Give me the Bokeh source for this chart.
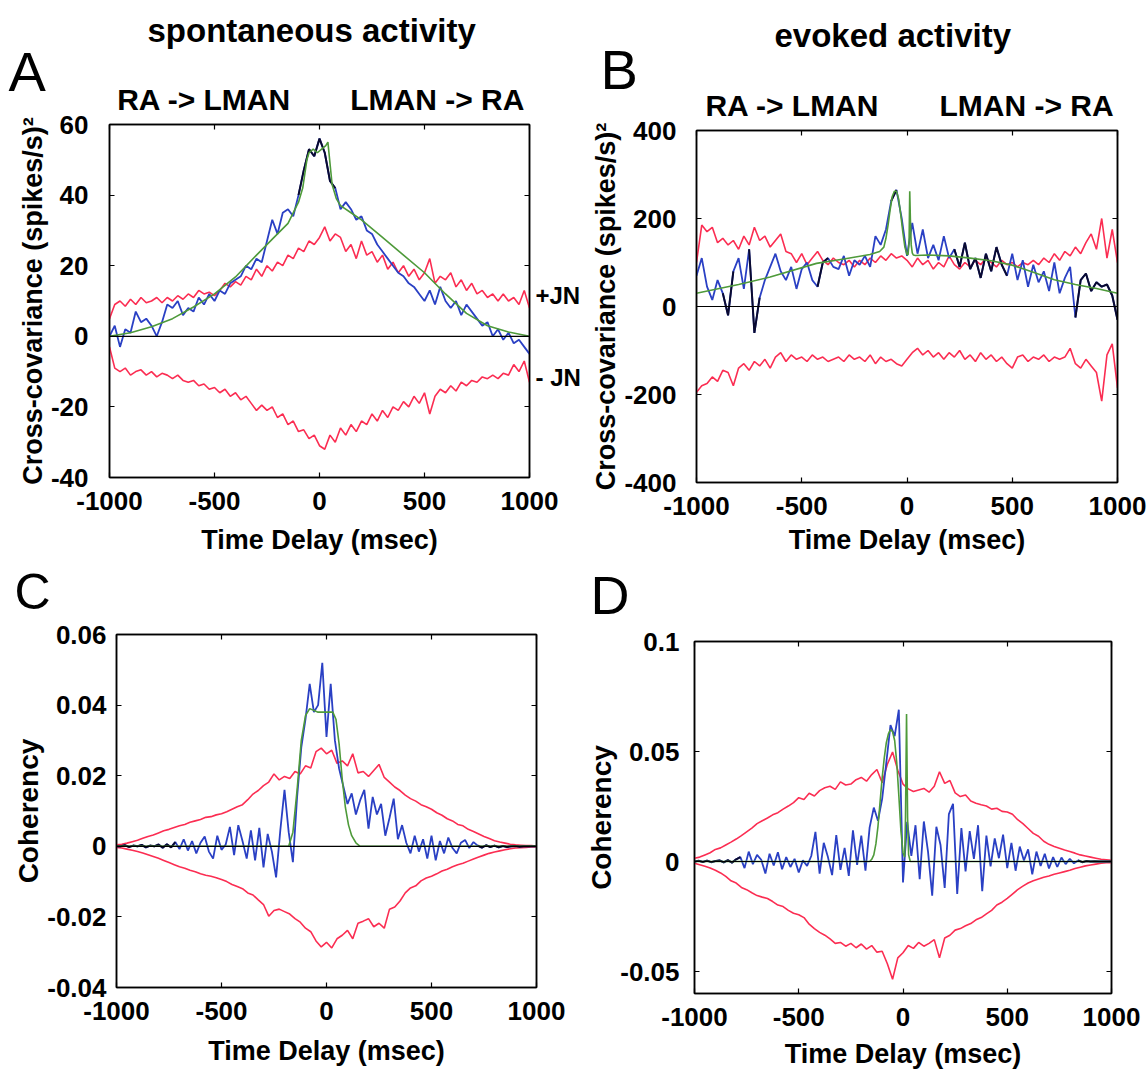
from bokeh.plotting import figure
from bokeh.models import Range1d, FixedTicker, LinearAxis, CustomJSTickFormatter, Span, Title
from bokeh.layouts import row, column
from bokeh.core.properties import value
from bokeh.embed import file_html
from bokeh.resources import INLINE

# ---------------- data ----------------
LAG25 = list(range(-1000, 1001, 25))
LAG20 = list(range(-1000, 1001, 20))

# Panel A : spontaneous cross-covariance
A_UP = [5, 9, 10, 8.5, 10.5, 9, 11, 9.5, 10, 11,
        9.5, 11, 10, 11.5, 10.5, 12, 11, 13, 12, 12.5,
        11.5, 13, 15, 14, 15.5, 14.5, 17, 16, 19, 17,
        20, 18.5, 21, 20, 23, 22, 25, 24, 27, 26,
        28,
        31, 27, 29, 28, 24, 26, 22, 27, 23, 24,
        21, 23, 19, 21, 18, 20, 17, 19, 16, 18,
        22, 15, 17, 16, 18, 14, 16, 13, 15, 12,
        13, 11, 12, 10, 12, 10, 11, 9, 13, 8]
A_LO = [-3, -9, -10, -9, -11, -10, -9.5, -11, -10, -11.5,
        -10.5, -11, -12, -11, -12.5, -13, -12.5, -14, -13.5, -15,
        -14.5, -16, -15, -17, -16, -18, -17, -19, -21, -19.5,
        -21, -20, -23, -22, -25, -24, -27, -26.5, -29, -28,
        -31,
        -32, -28, -30, -26, -28, -25, -27, -24, -25, -22,
        -24, -21, -23, -20, -21, -18.5, -20, -17, -19, -16,
        -22, -17, -15, -16, -14, -15.5, -13, -14, -12.5, -13,
        -11.5, -12, -11, -12, -10.5, -11, -8, -10, -7, -13]
A_BLUE = [0, 3, -3, 2, 1, 7, 4, 5, 3, 0,
          4, 9, 8, 10, 6, 8, 7, 11, 9, 12,
          10, 13, 12, 15, 16, 17, 20, 19, 22, 21,
          27, 33, 29, 35, 36, 34, 40, 47, 53, 51,
          56,
          52, 44, 42, 36, 38, 36, 33, 34, 30, 29,
          26, 24, 22, 20, 18, 17, 15, 14, 12, 10,
          13, 9, 14, 10, 8, 10, 6, 9, 7, 5,
          3, 4, 0, 2, -1, 1, -2, -1, -3, -5]
A_FIT_X = [-1000, -900, -800, -700, -600, -500, -400, -300, -200, -150,
           -100, -80, -60, -50, -30, -10, 10, 30, 40, 50,
           60, 80, 100, 150, 200, 300, 400, 500, 600, 700,
           800, 900, 1000]
A_FIT_Y = [0, 1, 2.7, 5, 8.3, 12, 16.8, 23, 29, 32,
           38, 42, 50, 52, 53, 52, 53, 54, 55, 49,
           43, 39, 37, 35, 33, 28, 23, 18, 12, 6.5,
           3, 1.2, 0]
A_DARK = [(-100, 75)]

# Panel B : evoked cross-covariance
B_UP = [100, 185, 170, 180, 145, 155, 140, 150, 130, 160,
        140, 180, 150, 160, 135, 150, 165, 125, 120, 100,
        120, 95, 110, 125, 105, 95, 110, 100, 95, 105,
        90, 105, 95, 110, 100, 115, 105, 120, 110, 115,
        105,
        90, 110, 95, 105, 85, 100, 90, 115, 95, 85,
        100, 90, 105, 95, 110, 100, 90, 105, 95, 100,
        90, 100, 95, 105, 95, 110, 100, 120, 105, 125,
        115, 135, 120, 145, 165, 130, 200, 110, 175, 100]
B_LO = [-195, -180, -175, -160, -170, -145, -150, -180, -140, -130,
        -145, -125, -135, -120, -140, -115, -105, -125, -110, -120,
        -115, -125, -110, -120, -115, -125, -120, -115, -125, -110,
        -120, -115, -125, -110, -130, -115, -125, -120, -130, -135,
        -120,
        -105, -95, -110, -100, -115, -105, -120, -105, -115, -100,
        -120, -110, -125, -105, -120, -110, -125, -115, -130, -140,
        -115, -110, -125, -115, -120, -110, -125, -115, -120, -115,
        -95, -130, -140, -120, -135, -150, -215, -110, -85, -185]
B_BLUE = [70, 110, 45, 15, 60, 30, -20, 80, 110, 40,
          130, -60, 20, 60, 90, 120, 80, 60, 90, 40,
          85, 100, 60, 45, 100, 110, 90, 85, 115, 70,
          105, 95, 115, 90, 160, 140, 175, 240, 265, 200,
          115,
          190, 120, 175, 110, 140, 105, 160, 110, 130, 90,
          145, 85, 110, 65, 120, 80, 135, 95, 70, 120,
          60, 105, 45, 95, 55, 80, 35, 100, 30, 65,
          90, -25, 60, 75, 35, 55, 45, 50, 25, -30]
B_FIT_X = [-1000, -800, -650, -430, -300, -176, -130, -110, -100, -90,
           -80, -70, -60, -50, -40, -30, -20, -10, 0, 5,
           10, 13, 16, 20, 25, 30, 40, 100, 200, 300,
           400, 500, 600, 700, 800, 900, 1000]
B_FIT_Y = [30, 50, 67, 98, 108, 118, 125, 135, 155, 185,
           220, 250, 262, 262, 245, 210, 170, 135, 118, 118,
           150, 262, 200, 140, 122, 117, 116, 117, 115, 110,
           104, 94, 78, 61, 50, 41, 30]
B_DARK = [(-875, -825), (-750, -700), (-425, -375), (-75, -50), (225, 475), (800, 1000)]

# Panel C : spontaneous coherency
C_UP = [0.0004, 0.0006, 0.0009, 0.0013, 0.0017, 0.0023, 0.0028, 0.0032, 0.0038, 0.0044,
        0.0048, 0.0053, 0.0058, 0.0062, 0.0068, 0.0072, 0.0076, 0.0082, 0.0084, 0.0089,
        0.0092, 0.0098, 0.0105, 0.0112, 0.0118, 0.0132, 0.0148, 0.0158, 0.0172, 0.0182,
        0.0205, 0.0188, 0.0198, 0.0192, 0.0212, 0.0205, 0.0228, 0.0222, 0.0268, 0.0278,
        0.0262,
        0.0272, 0.0235, 0.0242, 0.0228, 0.0262, 0.0208, 0.0212, 0.0198, 0.0215, 0.0232,
        0.0195, 0.0182, 0.0168, 0.0158, 0.0145, 0.0135, 0.0128, 0.0118, 0.0112, 0.0105,
        0.0095, 0.0088, 0.0078, 0.0072, 0.0062, 0.0058, 0.0048, 0.0042, 0.0035, 0.0028,
        0.0022, 0.0016, 0.0012, 0.0009, 0.0006, 0.0004, 0.0003, 0.0002, 0.0002, 0.0001]
C_LO = [-0.0003, -0.0005, -0.0008, -0.0011, -0.0015, -0.0019, -0.0024, -0.0029, -0.0034, -0.004,
        -0.0046, -0.0052, -0.0058, -0.0062, -0.0068, -0.0072, -0.0078, -0.0082, -0.0085, -0.0089,
        -0.0094, -0.01, -0.0108, -0.0114, -0.012, -0.0132, -0.0138, -0.0152, -0.0165, -0.0198,
        -0.0182, -0.0178, -0.0185, -0.0192, -0.0205, -0.0215, -0.0232, -0.0242, -0.0268, -0.0285,
        -0.0272,
        -0.0288, -0.0262, -0.0252, -0.0238, -0.0262, -0.0218, -0.0212, -0.0205, -0.0228, -0.0218,
        -0.0232, -0.0178, -0.0172, -0.0155, -0.0132, -0.0118, -0.0112, -0.0098, -0.009, -0.0085,
        -0.0078, -0.007, -0.0065, -0.0058, -0.0052, -0.0048, -0.0042, -0.0036, -0.003, -0.0025,
        -0.002, -0.0016, -0.0013, -0.001, -0.0007, -0.0005, -0.0004, -0.0003, -0.0002, -0.0002]
C_BLUE = [0, 0, 0.0003, -0.0002, 0.0002, 0, 0.0004, -0.0003, 0.0002, 0,
          0.0005, -0.0004, 0.0006, -0.0003, 0.0012, -0.0008, 0.002, -0.0012, 0.0015, -0.002,
          0.001, 0.0028, -0.0015, -0.0035, 0.003, -0.001, 0.0005, 0.0055, -0.0025, 0.006,
          0.0015, -0.0035, 0.0045, -0.004, 0.0052, -0.006, 0.0035, -0.0015, -0.0088, 0.0045,
          0.016, 0.004, -0.0045, 0.014, 0.028, 0.036, 0.046, 0.038, 0.04, 0.052,
          0.031,
          0.046, 0.03, 0.022, 0.017, 0.012, 0.015, 0.009, 0.013, 0.016, 0.005,
          0.014, 0.009, 0.012, 0.003, 0.008, 0.0135, 0.002, 0.006, 0.001, -0.002,
          0.003, -0.0015, 0.002, -0.0035, 0.003, -0.004, 0.0015, -0.002, 0.0025, -0.0005,
          -0.002, 0.001, 0.0018, -0.0005, 0.0012, 0.0002, -0.0004, 0.0003, -0.0002, 0.0002,
          -0.0003, 0.0001, -0.0002, 0, 0.0001, -0.0001, 0, 0, 0, 0]
C_FIT_X = [-1000, -180, -160, -140, -120, -100, -80, -40, 0, 30,
           45, 60, 75, 90, 105, 120, 140, 160, 1000]
C_FIT_Y = [0, 0, 0.004, 0.016, 0.03, 0.037, 0.039, 0.038, 0.038, 0.038,
           0.036, 0.029, 0.019, 0.011, 0.006, 0.003, 0.001, 0, 0]
C_DARK = [(-1000, -720), (720, 1000)]

# Panel D : evoked coherency
D_UP = [0.0015, 0.002, 0.003, 0.004, 0.0055, 0.0062, 0.0075, 0.0088, 0.0102, 0.0118,
        0.0135, 0.0152, 0.0172, 0.0185, 0.0198, 0.0212, 0.0222, 0.0238, 0.0252, 0.0268,
        0.029, 0.0282, 0.031, 0.0298, 0.0322, 0.0335, 0.0342, 0.0328, 0.0362, 0.0348,
        0.0352, 0.0372, 0.0382, 0.0365, 0.0395, 0.0418, 0.0358, 0.0442, 0.0498, 0.0415,
        0.0352,
        0.033, 0.0318, 0.0325, 0.0332, 0.0315, 0.0342, 0.0408, 0.0355, 0.0368, 0.0312,
        0.0295, 0.0302, 0.0275, 0.0265, 0.0258, 0.0252, 0.0238, 0.0242, 0.0228, 0.0225,
        0.0215, 0.019, 0.0172, 0.015, 0.0128, 0.0115, 0.0092, 0.0078, 0.0068, 0.006,
        0.0052, 0.0045, 0.0038, 0.003, 0.0025, 0.002, 0.0015, 0.001, 0.0008, 0.0005]
D_LO = [-0.0008, -0.0015, -0.0022, -0.003, -0.004, -0.0052, -0.0068, -0.0088, -0.0098, -0.0118,
        -0.0128, -0.0142, -0.0155, -0.0162, -0.0168, -0.0182, -0.0198, -0.0205, -0.0222, -0.0235,
        -0.0242, -0.0255, -0.0285, -0.0305, -0.0322, -0.0335, -0.0352, -0.0372, -0.0368, -0.0385,
        -0.0372, -0.0392, -0.0375, -0.0398, -0.0382, -0.0412, -0.0408, -0.0465, -0.0535, -0.0438,
        -0.0415,
        -0.0382, -0.0395, -0.0368, -0.0385, -0.0372, -0.0355, -0.0438, -0.0348, -0.0335, -0.0312,
        -0.0305, -0.0292, -0.0282, -0.0265, -0.0255, -0.0238, -0.0222, -0.0198, -0.0185, -0.0168,
        -0.0148, -0.0128, -0.0112, -0.0098, -0.0088, -0.008, -0.0072, -0.0066, -0.0058, -0.0052,
        -0.0046, -0.004, -0.0032, -0.0026, -0.002, -0.0016, -0.0012, -0.0008, -0.0006, -0.0005]
D_BLUE = [0, 0.0003, -0.0002, 0.0004, -0.0003, 0.0002, 0.0005, -0.0004, 0.0006, -0.0005,
          0.001, 0.002, -0.003, 0.0045, -0.0012, 0.003, 0.0008, -0.0055, 0.0035, -0.0018,
          0.0042, -0.0035, 0.002, -0.0025, 0.0012, -0.005, 0.0005, -0.002, 0.0025, 0.0135,
          -0.0055, 0.0085, 0.002, -0.0062, 0.012, -0.0038, 0.0062, -0.0065, 0.0142, -0.0015,
          0.0118, -0.0042, 0.0155, 0.0245, 0.0185, 0.0285, 0.045, 0.062, 0.057, 0.069,
          -0.0095,
          0.018, 0.0025, 0.0165, -0.008, 0.0182, 0.0045, -0.0155, 0.0158, 0.0075, -0.012,
          0.0215, 0.0262, -0.0148, 0.0152, -0.0045, 0.0138, 0.0012, 0.0165, -0.0135, 0.0118,
          -0.0022, 0.0105, 0.0015, 0.0122, -0.003, 0.0085, -0.0042, 0.0068, 0.0005, 0.0055,
          -0.0058, 0.0045, -0.002, 0.0035, -0.0032, 0.002, -0.0025, 0.0018, -0.0012, 0.0012,
          -0.0008, 0.0005, -0.0003, 0.0002, 0, 0.0001, 0, 0, 0, 0]
D_FIT_X = [-1000, -160, -150, -140, -130, -120, -110, -100, -90, -80,
           -70, -60, -50, -40, -30, -20, -10, 0, 8, 12,
           17, 22, 27, 35, 1000]
D_FIT_Y = [0, 0, 0.001, 0.003, 0.008, 0.016, 0.027, 0.038, 0.047, 0.054,
           0.058, 0.06, 0.059, 0.055, 0.045, 0.03, 0.014, 0.004, 0.002, 0.02,
           0.067, 0.02, 0.003, 0, 0]
D_DARK = [(-1000, -780), (840, 1000)]

X_TICKS = [-1000, -500, 0, 500, 1000]
A_TICKS = [-40, -20, 0, 20, 40, 60]
B_TICKS = [-400, -200, 0, 200, 400]
C_TICKS = [-0.04, -0.02, 0, 0.02, 0.04, 0.06]
D_TICKS = [-0.05, 0, 0.05, 0.1]
JN_TICKS = [11.6, -11.6]              # where the +JN / - JN tags sit on panel A
DIR_TICKS_A = [-549, 561]             # centres of "RA -> LMAN" / "LMAN -> RA" over panel A
DIR_TICKS_B = [-544, 568]             # ... and over panel B

# ---------------- styling / layout ----------------
RED = "#fb2d52"
BLUE = "#2a40c4"
GREEN = "#4e9a3a"
DARK = "#0a0a30"
FONT = "Liberation Sans"
LEFT_W, RIGHT_W = 583, 564

# plot canvases: size, and frame offsets inside the canvas
GEOM = {
    "A": dict(w=LEFT_W, h=563, fl=109, ft=124, fw=421, fh=353),
    "B": dict(w=RIGHT_W, h=563, fl=113, ft=130, fw=421, fh=352),
    "C": dict(w=LEFT_W, h=461, fl=116, ft=15, fw=420, fh=353),
    "D": dict(w=RIGHT_W, h=454, fl=108, ft=15, fw=420, fh=352),
}


def subset(xs, ys, lo, hi):
    pts = [(x, y) for x, y in zip(xs, ys) if lo <= x <= hi]
    return [p[0] for p in pts], [p[1] for p in pts]


def style_axis(ax, size="26px"):
    ax.major_tick_in = 5
    ax.major_tick_out = 0
    ax.minor_tick_line_color = None
    ax.axis_line_color = "black"
    ax.axis_line_width = 1.5
    ax.major_tick_line_color = "black"
    ax.major_tick_line_width = 1.2
    ax.major_label_text_font = FONT
    ax.major_label_text_font_style = "bold"
    ax.major_label_text_font_size = size
    ax.major_label_text_color = "black"
    ax.axis_label_text_font = FONT
    ax.axis_label_text_font_style = "bold"
    ax.axis_label_text_color = "black"


def tags_only(ax):
    """Axis whose major ticks carry text tags only; the frame ticks are drawn as minor ticks."""
    ax.major_tick_in = 0
    ax.major_tick_line_color = None
    ax.minor_tick_line_color = "black"
    ax.minor_tick_line_width = 1.2
    ax.minor_tick_in = 5
    ax.minor_tick_out = 0


def make_panel(key, yr, yticks, ystand, ylabel, ylsize, xstand, jn=False, direction=None):
    g = GEOM[key]
    p = figure(width=g["w"], height=g["h"],
               x_range=Range1d(-1000, 1000), y_range=Range1d(*yr),
               output_backend="svg", toolbar_location=None, frame_align=False,
               min_border_left=g["fl"], min_border_top=g["ft"],
               min_border_right=g["w"] - g["fl"] - g["fw"],
               min_border_bottom=g["h"] - g["ft"] - g["fh"],
               background_fill_color="white", border_fill_color="white")
    p.grid.visible = False
    p.outline_line_color = "black"
    p.outline_line_width = 1.5
    fmt = CustomJSTickFormatter(code="return String(Math.round(tick * 1000) / 1000);")
    blank = CustomJSTickFormatter(code="return '';")

    xa, ya = p.xaxis[0], p.yaxis[0]
    for ax in (xa, ya):
        style_axis(ax)
        ax.formatter = fmt
    xa.ticker = FixedTicker(ticks=X_TICKS)
    ya.ticker = FixedTicker(ticks=yticks)
    xa.major_label_standoff = 14
    ya.major_label_standoff = ystand
    xa.axis_label = "Time Delay (msec)"
    xa.axis_label_text_font_size = "27px"
    xa.axis_label_standoff = xstand
    ya.axis_label = ylabel
    ya.axis_label_text_font_size = ylsize
    ya.axis_label_standoff = 0

    if direction is not None:
        top = LinearAxis(ticker=FixedTicker(ticks=direction, minor_ticks=X_TICKS),
                         formatter=CustomJSTickFormatter(
                             code="return tick < 0 ? 'RA -> LMAN' : 'LMAN -> RA';"))
        style_axis(top, "30px")
        tags_only(top)
        top.major_label_standoff = 9
    else:
        top = LinearAxis(ticker=FixedTicker(ticks=X_TICKS), formatter=blank)
        style_axis(top, "0px")
        top.major_label_standoff = 0
    p.add_layout(top, "above")

    if jn:
        right = LinearAxis(ticker=FixedTicker(ticks=JN_TICKS, minor_ticks=yticks),
                           formatter=CustomJSTickFormatter(code="return tick > 0 ? '+JN' : '- JN';"))
        style_axis(right, "24px")
        tags_only(right)
        right.major_label_standoff = 6
    else:
        right = LinearAxis(ticker=FixedTicker(ticks=yticks), formatter=blank)
        style_axis(right, "0px")
        right.major_label_standoff = 0
    p.add_layout(right, "right")
    return p


def add_title(p, text, size, style, offset, standoff, valign):
    p.add_layout(Title(text=text, align="left", offset=offset, standoff=standoff,
                       vertical_align=valign, text_font=FONT, text_font_size=size,
                       text_font_style=style, text_color="black"), "above")


def draw(p, lag_r, up, lo, lag_b, blue, fx, fy, dark):
    p.line(lag_r, up, line_color=RED, line_width=1.6)
    p.line(lag_r, lo, line_color=RED, line_width=1.6)
    p.line(lag_b, blue, line_color=BLUE, line_width=1.8)
    for a, b in dark:
        sx, sy = subset(lag_b, blue, a, b)
        p.line(sx, sy, line_color=DARK, line_width=2.0)
    p.line(fx, fy, line_color=GREEN, line_width=1.6)
    p.add_layout(Span(location=0, dimension="width", line_color="black", line_width=1.2))


def make_header(w, h, ox, oy, items):
    """Text strip between the rows; items are (x, centre_y, text, size) in page pixels."""
    p = figure(width=w, height=h, x_range=Range1d(0, w), y_range=Range1d(h, 0),
               x_axis_type=None, y_axis_type=None, output_backend="svg",
               toolbar_location=None, min_border=0, outline_line_color=None,
               frame_align=False,
               background_fill_color="white", border_fill_color="white")
    for (x, y, text, size) in items:
        p.text(x=[x - ox], y=[y - oy], text=[text], text_font=value(FONT),
               text_font_size=value(size), text_font_style="normal",
               text_align="left", text_baseline="middle", text_color="black")
    return p


YR_A, YR_B, YR_C, YR_D = (-40, 60), (-400, 400), (-0.04, 0.06), (-0.06, 0.1)
YLAB_CC = "Cross-covariance (spikes/s)\u00b2"

pA = make_panel("A", YR_A, A_TICKS, 21, YLAB_CC, "27px", 12, jn=True, direction=DIR_TICKS_A)
pB = make_panel("B", YR_B, B_TICKS, 20, YLAB_CC, "27px", 7, direction=DIR_TICKS_B)
pC = make_panel("C", YR_C, C_TICKS, 10, "Coherency", "28px", 13)
pD = make_panel("D", YR_D, D_TICKS, 15, "Coherency", "28px", 10)

# panel letters and column titles live in the top panels' header bands
add_title(pA, "A", "56px", "normal", -101, -47, "bottom")
add_title(pA, "spontaneous activity", "33px", "bold", 38, 22, "top")
add_title(pB, "B", "56px", "normal", -96, -31, "bottom")
add_title(pB, "evoked activity", "33px", "bold", 78, -9, "top")

draw(pA, LAG25, A_UP, A_LO, LAG25, A_BLUE, A_FIT_X, A_FIT_Y, A_DARK)
draw(pB, LAG25, B_UP, B_LO, LAG25, B_BLUE, B_FIT_X, B_FIT_Y, B_DARK)
draw(pC, LAG25, C_UP, C_LO, LAG20, C_BLUE, C_FIT_X, C_FIT_Y, C_DARK)
draw(pD, LAG25, D_UP, D_LO, LAG20, D_BLUE, D_FIT_X, D_FIT_Y, D_DARK)

# panel letters C and D sit in thin strips between the two rows
hC = make_header(LEFT_W, 56, 0, 563, [(14, 591, "C", "50px")])
hD = make_header(RIGHT_W, 63, LEFT_W, 563, [(590, 594, "D", "54px")])

layout = row(column(pA, hC, pC), column(pB, hD, pD))
open("out.html", "w").write(file_html(layout, INLINE))
